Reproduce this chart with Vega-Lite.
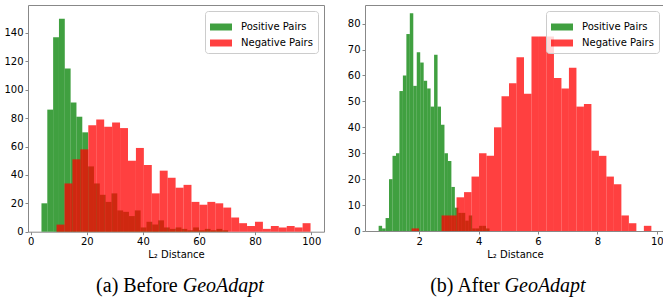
{
  "$schema": "https://vega.github.io/schema/vega-lite/v6.json",
  "padding": {"left": 3, "top": 4, "right": 0, "bottom": 0},
  "spacing": 21,
  "resolve": {"scale": {"color": "independent"}, "legend": {"color": "independent"}},
  "config": {
    "font": "DejaVu Sans",
    "view": {"stroke": "#888888", "strokeWidth": 1},
    "axis": {"domain": false, "grid": false, "ticks": true, "tickColor": "#888888", "tickSize": 3, "labelFont": "DejaVu Sans", "labelFontSize": 10, "labelColor": "#000000", "labelPadding": 2, "labelFlush": false, "labelOverlap": false, "tickCount": 20, "format": "d", "titleFont": "DejaVu Sans", "titleFontSize": 10, "titleFontWeight": "normal", "titleColor": "#000000", "titlePadding": 3},
    "legend": {"title": null, "orient": "top-right", "offset": 6, "padding": 5, "fillColor": "rgba(255,255,255,0.8)", "strokeColor": "#cccccc", "cornerRadius": 3, "labelFont": "DejaVu Sans", "labelFontSize": 10, "labelColor": "#000000", "symbolType": "M-1,-0.318H1V0.318H-1Z", "symbolSize": 484, "symbolOpacity": 0.75, "symbolStrokeWidth": 0, "labelOffset": 9, "rowPadding": -5.5}
  },
  "datasets": {
    "before": [
      {"series": "Positive Pairs", "bin_start": 3.82, "bin_end": 5.90, "count": 20},
      {"series": "Positive Pairs", "bin_start": 5.90, "bin_end": 7.98, "count": 86},
      {"series": "Positive Pairs", "bin_start": 7.98, "bin_end": 10.06, "count": 137},
      {"series": "Positive Pairs", "bin_start": 10.06, "bin_end": 12.14, "count": 150},
      {"series": "Positive Pairs", "bin_start": 12.14, "bin_end": 14.22, "count": 115},
      {"series": "Positive Pairs", "bin_start": 14.22, "bin_end": 16.30, "count": 91},
      {"series": "Positive Pairs", "bin_start": 16.30, "bin_end": 18.38, "count": 81},
      {"series": "Positive Pairs", "bin_start": 18.38, "bin_end": 20.46, "count": 70},
      {"series": "Positive Pairs", "bin_start": 20.46, "bin_end": 22.54, "count": 46},
      {"series": "Positive Pairs", "bin_start": 22.54, "bin_end": 24.62, "count": 34},
      {"series": "Positive Pairs", "bin_start": 24.62, "bin_end": 26.70, "count": 26},
      {"series": "Positive Pairs", "bin_start": 26.70, "bin_end": 28.78, "count": 21},
      {"series": "Positive Pairs", "bin_start": 28.78, "bin_end": 30.86, "count": 27},
      {"series": "Positive Pairs", "bin_start": 30.86, "bin_end": 32.94, "count": 15},
      {"series": "Positive Pairs", "bin_start": 32.94, "bin_end": 35.02, "count": 14},
      {"series": "Positive Pairs", "bin_start": 35.02, "bin_end": 37.10, "count": 11},
      {"series": "Positive Pairs", "bin_start": 37.10, "bin_end": 39.18, "count": 15},
      {"series": "Positive Pairs", "bin_start": 39.18, "bin_end": 41.26, "count": 3},
      {"series": "Positive Pairs", "bin_start": 41.26, "bin_end": 43.34, "count": 7},
      {"series": "Positive Pairs", "bin_start": 43.34, "bin_end": 45.42, "count": 5},
      {"series": "Positive Pairs", "bin_start": 45.42, "bin_end": 47.50, "count": 8},
      {"series": "Positive Pairs", "bin_start": 47.50, "bin_end": 49.58, "count": 3},
      {"series": "Positive Pairs", "bin_start": 49.58, "bin_end": 51.66, "count": 2},
      {"series": "Positive Pairs", "bin_start": 51.66, "bin_end": 53.74, "count": 3},
      {"series": "Positive Pairs", "bin_start": 53.74, "bin_end": 55.82, "count": 2},
      {"series": "Positive Pairs", "bin_start": 55.82, "bin_end": 57.90, "count": 1},
      {"series": "Positive Pairs", "bin_start": 57.90, "bin_end": 59.98, "count": 3},
      {"series": "Positive Pairs", "bin_start": 59.98, "bin_end": 62.06, "count": 1},
      {"series": "Positive Pairs", "bin_start": 62.06, "bin_end": 64.14, "count": 2},
      {"series": "Positive Pairs", "bin_start": 64.14, "bin_end": 66.22, "count": 1},
      {"series": "Positive Pairs", "bin_start": 66.22, "bin_end": 68.30, "count": 2},
      {"series": "Positive Pairs", "bin_start": 68.30, "bin_end": 70.38, "count": 1},
      {"series": "Negative Pairs", "bin_start": 9.20, "bin_end": 12.03, "count": 5},
      {"series": "Negative Pairs", "bin_start": 12.03, "bin_end": 14.86, "count": 34},
      {"series": "Negative Pairs", "bin_start": 14.86, "bin_end": 17.69, "count": 51},
      {"series": "Negative Pairs", "bin_start": 17.69, "bin_end": 20.52, "count": 58},
      {"series": "Negative Pairs", "bin_start": 20.52, "bin_end": 23.35, "count": 75},
      {"series": "Negative Pairs", "bin_start": 23.35, "bin_end": 26.18, "count": 79},
      {"series": "Negative Pairs", "bin_start": 26.18, "bin_end": 29.01, "count": 74},
      {"series": "Negative Pairs", "bin_start": 29.01, "bin_end": 31.84, "count": 77},
      {"series": "Negative Pairs", "bin_start": 31.84, "bin_end": 34.67, "count": 73},
      {"series": "Negative Pairs", "bin_start": 34.67, "bin_end": 37.50, "count": 50},
      {"series": "Negative Pairs", "bin_start": 37.50, "bin_end": 40.33, "count": 59},
      {"series": "Negative Pairs", "bin_start": 40.33, "bin_end": 43.16, "count": 47},
      {"series": "Negative Pairs", "bin_start": 43.16, "bin_end": 45.99, "count": 27},
      {"series": "Negative Pairs", "bin_start": 45.99, "bin_end": 48.82, "count": 43},
      {"series": "Negative Pairs", "bin_start": 48.82, "bin_end": 51.65, "count": 38},
      {"series": "Negative Pairs", "bin_start": 51.65, "bin_end": 54.48, "count": 31},
      {"series": "Negative Pairs", "bin_start": 54.48, "bin_end": 57.31, "count": 33},
      {"series": "Negative Pairs", "bin_start": 57.31, "bin_end": 60.14, "count": 21},
      {"series": "Negative Pairs", "bin_start": 60.14, "bin_end": 62.97, "count": 19},
      {"series": "Negative Pairs", "bin_start": 62.97, "bin_end": 65.80, "count": 21},
      {"series": "Negative Pairs", "bin_start": 65.80, "bin_end": 68.63, "count": 20},
      {"series": "Negative Pairs", "bin_start": 68.63, "bin_end": 71.46, "count": 17},
      {"series": "Negative Pairs", "bin_start": 71.46, "bin_end": 74.29, "count": 10},
      {"series": "Negative Pairs", "bin_start": 74.29, "bin_end": 77.12, "count": 6},
      {"series": "Negative Pairs", "bin_start": 77.12, "bin_end": 79.95, "count": 4},
      {"series": "Negative Pairs", "bin_start": 79.95, "bin_end": 82.78, "count": 7},
      {"series": "Negative Pairs", "bin_start": 82.78, "bin_end": 85.61, "count": 2},
      {"series": "Negative Pairs", "bin_start": 85.61, "bin_end": 88.44, "count": 4},
      {"series": "Negative Pairs", "bin_start": 88.44, "bin_end": 91.27, "count": 3},
      {"series": "Negative Pairs", "bin_start": 91.27, "bin_end": 94.10, "count": 4},
      {"series": "Negative Pairs", "bin_start": 94.10, "bin_end": 96.93, "count": 3},
      {"series": "Negative Pairs", "bin_start": 96.93, "bin_end": 99.76, "count": 6}
    ],
    "after": [
      {"series": "Positive Pairs", "bin_start": 0.633, "bin_end": 0.750, "count": 2},
      {"series": "Positive Pairs", "bin_start": 0.750, "bin_end": 0.867, "count": 1},
      {"series": "Positive Pairs", "bin_start": 0.867, "bin_end": 0.983, "count": 5},
      {"series": "Positive Pairs", "bin_start": 0.983, "bin_end": 1.100, "count": 20},
      {"series": "Positive Pairs", "bin_start": 1.100, "bin_end": 1.217, "count": 29},
      {"series": "Positive Pairs", "bin_start": 1.217, "bin_end": 1.333, "count": 30},
      {"series": "Positive Pairs", "bin_start": 1.333, "bin_end": 1.450, "count": 54},
      {"series": "Positive Pairs", "bin_start": 1.450, "bin_end": 1.567, "count": 60},
      {"series": "Positive Pairs", "bin_start": 1.567, "bin_end": 1.683, "count": 76},
      {"series": "Positive Pairs", "bin_start": 1.683, "bin_end": 1.800, "count": 84},
      {"series": "Positive Pairs", "bin_start": 1.800, "bin_end": 1.917, "count": 56},
      {"series": "Positive Pairs", "bin_start": 1.917, "bin_end": 2.033, "count": 69},
      {"series": "Positive Pairs", "bin_start": 2.033, "bin_end": 2.150, "count": 65},
      {"series": "Positive Pairs", "bin_start": 2.150, "bin_end": 2.267, "count": 58},
      {"series": "Positive Pairs", "bin_start": 2.267, "bin_end": 2.383, "count": 55},
      {"series": "Positive Pairs", "bin_start": 2.383, "bin_end": 2.500, "count": 48},
      {"series": "Positive Pairs", "bin_start": 2.500, "bin_end": 2.617, "count": 68},
      {"series": "Positive Pairs", "bin_start": 2.617, "bin_end": 2.733, "count": 48},
      {"series": "Positive Pairs", "bin_start": 2.733, "bin_end": 2.850, "count": 41},
      {"series": "Positive Pairs", "bin_start": 2.850, "bin_end": 2.967, "count": 30},
      {"series": "Positive Pairs", "bin_start": 2.967, "bin_end": 3.083, "count": 27},
      {"series": "Positive Pairs", "bin_start": 3.083, "bin_end": 3.200, "count": 17},
      {"series": "Positive Pairs", "bin_start": 3.200, "bin_end": 3.317, "count": 9},
      {"series": "Positive Pairs", "bin_start": 3.317, "bin_end": 3.433, "count": 7},
      {"series": "Positive Pairs", "bin_start": 3.433, "bin_end": 3.550, "count": 7},
      {"series": "Positive Pairs", "bin_start": 3.550, "bin_end": 3.667, "count": 4},
      {"series": "Positive Pairs", "bin_start": 3.667, "bin_end": 3.783, "count": 6},
      {"series": "Positive Pairs", "bin_start": 3.783, "bin_end": 3.900, "count": 1},
      {"series": "Positive Pairs", "bin_start": 3.900, "bin_end": 4.017, "count": 1},
      {"series": "Positive Pairs", "bin_start": 4.017, "bin_end": 4.133, "count": 2},
      {"series": "Positive Pairs", "bin_start": 4.133, "bin_end": 4.250, "count": 2},
      {"series": "Positive Pairs", "bin_start": 4.250, "bin_end": 4.367, "count": 1},
      {"series": "Negative Pairs", "bin_start": 1.743, "bin_end": 1.995, "count": 1},
      {"series": "Negative Pairs", "bin_start": 2.752, "bin_end": 3.005, "count": 6},
      {"series": "Negative Pairs", "bin_start": 3.005, "bin_end": 3.257, "count": 6},
      {"series": "Negative Pairs", "bin_start": 3.257, "bin_end": 3.509, "count": 13},
      {"series": "Negative Pairs", "bin_start": 3.509, "bin_end": 3.761, "count": 15},
      {"series": "Negative Pairs", "bin_start": 3.761, "bin_end": 4.014, "count": 21},
      {"series": "Negative Pairs", "bin_start": 4.014, "bin_end": 4.266, "count": 30},
      {"series": "Negative Pairs", "bin_start": 4.266, "bin_end": 4.518, "count": 29},
      {"series": "Negative Pairs", "bin_start": 4.518, "bin_end": 4.771, "count": 40},
      {"series": "Negative Pairs", "bin_start": 4.771, "bin_end": 5.023, "count": 52},
      {"series": "Negative Pairs", "bin_start": 5.023, "bin_end": 5.275, "count": 57},
      {"series": "Negative Pairs", "bin_start": 5.275, "bin_end": 5.528, "count": 67},
      {"series": "Negative Pairs", "bin_start": 5.528, "bin_end": 5.780, "count": 53},
      {"series": "Negative Pairs", "bin_start": 5.780, "bin_end": 6.032, "count": 75},
      {"series": "Negative Pairs", "bin_start": 6.032, "bin_end": 6.284, "count": 75},
      {"series": "Negative Pairs", "bin_start": 6.284, "bin_end": 6.537, "count": 75},
      {"series": "Negative Pairs", "bin_start": 6.537, "bin_end": 6.789, "count": 59},
      {"series": "Negative Pairs", "bin_start": 6.789, "bin_end": 7.041, "count": 55},
      {"series": "Negative Pairs", "bin_start": 7.041, "bin_end": 7.294, "count": 63},
      {"series": "Negative Pairs", "bin_start": 7.294, "bin_end": 7.546, "count": 48},
      {"series": "Negative Pairs", "bin_start": 7.546, "bin_end": 7.798, "count": 49},
      {"series": "Negative Pairs", "bin_start": 7.798, "bin_end": 8.051, "count": 31},
      {"series": "Negative Pairs", "bin_start": 8.051, "bin_end": 8.303, "count": 29},
      {"series": "Negative Pairs", "bin_start": 8.303, "bin_end": 8.555, "count": 21},
      {"series": "Negative Pairs", "bin_start": 8.555, "bin_end": 8.807, "count": 18},
      {"series": "Negative Pairs", "bin_start": 8.807, "bin_end": 9.060, "count": 6},
      {"series": "Negative Pairs", "bin_start": 9.060, "bin_end": 9.312, "count": 3},
      {"series": "Negative Pairs", "bin_start": 9.564, "bin_end": 9.817, "count": 2}
    ],
    "caption_a": [{"part": "(a) Before", "italic": "GeoAdapt"}],
    "caption_b": [{"part": "(b) After", "italic": "GeoAdapt"}]
  },
  "hconcat": [
    {
      "width": 296,
      "height": 226.7,
      "layer": [
        {
          "data": {"name": "before"},
          "mark": {"type": "rect", "opacity": 0.75},
          "encoding": {
            "x": {"field": "bin_start", "type": "quantitative", "scale": {"domain": [-0.98, 104.56], "nice": false, "zero": false}, "axis": {"title": "L₂ Distance", "values": [0, 20, 40, 60, 80, 100], "labelOverlap": false, "tickCount": 20, "format": "d"}},
            "x2": {"field": "bin_end"},
            "y": {"field": "count", "type": "quantitative", "scale": {"domain": [0, 159.7], "nice": false}, "axis": {"title": null, "values": [0, 20, 40, 60, 80, 100, 120, 140], "labelOverlap": false, "tickCount": 20, "format": "d"}},
            "y2": {"datum": 0},
            "color": {"field": "series", "type": "nominal", "scale": {"domain": ["Positive Pairs", "Negative Pairs"], "range": ["#008000", "#ff0000"]}}
          }
        },
        {
          "data": {"name": "caption_a"},
          "mark": {"type": "text", "font": "Liberation Serif", "fontSize": 20, "align": "right", "baseline": "alphabetic", "dx": -2.5, "color": "#000000"},
          "encoding": {"x": {"datum": 53.3}, "y": {"datum": -42.5}, "text": {"field": "part"}}
        },
        {
          "data": {"name": "caption_a"},
          "mark": {"type": "text", "font": "Liberation Serif", "fontSize": 20, "fontStyle": "italic", "align": "left", "baseline": "alphabetic", "dx": 2.5, "color": "#000000"},
          "encoding": {"x": {"datum": 53.3}, "y": {"datum": -42.5}, "text": {"field": "italic"}}
        }
      ]
    },
    {
      "width": 300,
      "height": 226,
      "layer": [
        {
          "data": {"name": "after"},
          "mark": {"type": "rect", "opacity": 0.75},
          "encoding": {
            "x": {"field": "bin_start", "type": "quantitative", "scale": {"domain": [0.174, 10.276], "nice": false, "zero": false}, "axis": {"title": "L₂ Distance", "values": [2, 4, 6, 8, 10], "labelOverlap": false, "tickCount": 20, "format": "d"}},
            "x2": {"field": "bin_end"},
            "y": {"field": "count", "type": "quantitative", "scale": {"domain": [0, 87.2], "nice": false}, "axis": {"title": null, "values": [0, 10, 20, 30, 40, 50, 60, 70, 80], "labelOverlap": false, "tickCount": 20, "format": "d"}},
            "y2": {"datum": 0},
            "color": {"field": "series", "type": "nominal", "scale": {"domain": ["Positive Pairs", "Negative Pairs"], "range": ["#008000", "#ff0000"]}}
          }
        },
        {
          "data": {"name": "caption_b"},
          "mark": {"type": "text", "font": "Liberation Serif", "fontSize": 20, "align": "right", "baseline": "alphabetic", "dx": -2.5, "color": "#000000"},
          "encoding": {"x": {"datum": 4.79}, "y": {"datum": -23.5}, "text": {"field": "part"}}
        },
        {
          "data": {"name": "caption_b"},
          "mark": {"type": "text", "font": "Liberation Serif", "fontSize": 20, "fontStyle": "italic", "align": "left", "baseline": "alphabetic", "dx": 2.5, "color": "#000000"},
          "encoding": {"x": {"datum": 4.79}, "y": {"datum": -23.5}, "text": {"field": "italic"}}
        }
      ]
    }
  ]
}
